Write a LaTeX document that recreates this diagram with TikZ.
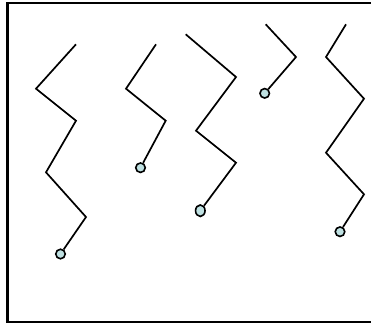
\documentclass[tikz,border=0pt]{standalone}
\definecolor{bead}{RGB}{191,225,226}
\tikzset{
  chain/.style={line width=1.7pt, line join=miter, black},
  frameline/.style={line width=2.4pt, black},
  beadnode/.style={ellipse, draw=black, line width=1.6pt, fill=bead, inner sep=0pt, minimum width=9.5pt, minimum height=9.5pt},
  tallbead/.style={beadnode, minimum width=9.5pt, minimum height=11.5pt}
}
\usetikzlibrary{shapes.geometric}
\begin{document}
\begin{tikzpicture}[x=1pt,y=-1pt]
\useasboundingbox (0,0) rectangle (371,327);
% frame (right side outside the picture)
\draw[frameline] (371,3.2) -- (7.6,3.2) -- (7.6,322) -- (371,322);
% chain 1
\coordinate (a1) at (76,44.3);
\coordinate (a2) at (36,88.7);
\coordinate (a3) at (76,120.7);
\coordinate (a4) at (46,172.3);
\coordinate (a5) at (86,217);
\node[beadnode] (ab) at (60.5,254) {};
\draw[chain] (a1) -- (a2) -- (a3) -- (a4) -- (a5) -- (ab);
% chain 2
\coordinate (b1) at (156,44.3);
\coordinate (b2) at (126,88.7);
\coordinate (b3) at (165.7,120.7);
\node[beadnode] (bb) at (140.5,167.7) {};
\draw[chain] (b1) -- (b2) -- (b3) -- (bb);
% chain 3
\coordinate (c1) at (185.7,34.3);
\coordinate (c2) at (236,77);
\coordinate (c3) at (196,130.7);
\coordinate (c4) at (236,162.7);
\node[tallbead] (cb) at (200.3,210.7) {};
\draw[chain] (c1) -- (c2) -- (c3) -- (c4) -- (cb);
% chain 4
\coordinate (d1) at (265.7,24.3);
\coordinate (d2) at (296,57);
\node[beadnode] (db) at (264.7,93.3) {};
\draw[chain] (d1) -- (d2) -- (db);
% chain 5
\coordinate (e1) at (346,24.3);
\coordinate (e2) at (326,57);
\coordinate (e3) at (364,98.7);
\coordinate (e4) at (326,152.7);
\coordinate (e5) at (364,194.3);
\node[beadnode] (eb) at (340,231.7) {};
\draw[chain] (e1) -- (e2) -- (e3) -- (e4) -- (e5) -- (eb);
\end{tikzpicture}
\end{document}
